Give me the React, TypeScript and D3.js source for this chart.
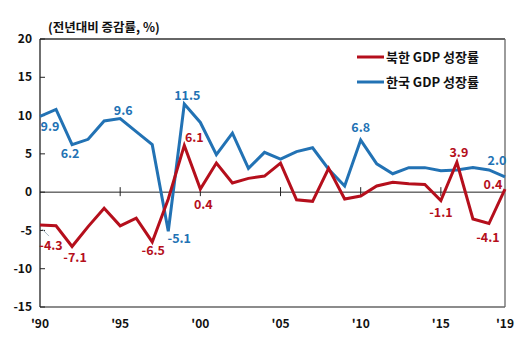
import React from "react";
import * as d3 from "d3";

const years = d3.range(1990, 2020);
const northKorea = [-4.3, -4.4, -7.1, -4.5, -2.1, -4.4, -3.4, -6.5, -0.9, 6.1, 0.4, 3.8, 1.2, 1.8, 2.1, 3.8, -1.0, -1.2, 3.1, -0.9, -0.5, 0.8, 1.3, 1.1, 1.0, -1.1, 3.9, -3.5, -4.1, 0.4];
const southKorea = [9.9, 10.8, 6.2, 6.9, 9.3, 9.6, 7.9, 6.2, -5.1, 11.5, 9.1, 4.9, 7.7, 3.1, 5.2, 4.3, 5.3, 5.8, 3.0, 0.8, 6.8, 3.7, 2.4, 3.2, 3.2, 2.8, 2.9, 3.2, 2.9, 2.0];
const yTicks = [20, 15, 10, 5, 0, -5, -10, -15];
const xTickYears = [1990, 1995, 2000, 2005, 2010, 2015, 2019];
const xTickLabels = ["'90", "'95", "'00", "'05", "'10", "'15", "'19"];
const seriesNames = ["북한 GDP 성장률", "한국 GDP 성장률"];
const unitLabel = "(전년대비 증감률, %)";
// labelled points: [year, dx, dy] offsets of label centre from the point
const redLabels: [number, number, number][] = [
  [1990, 11, 21], [1992, 3, 11], [1997, 1, 9], [1999, 10, -8], [2000, 3, 16], [2015, 0, 12], [2016, 2, -10], [2018, -1, 14], [2019, -12, -4],
];
const blueLabels: [number, number, number][] = [
  [1990, 10, 10], [1992, -2, 9], [1995, 3, -8], [1999, 3, -8], [1998, 11, 7], [2010, 0, -12], [2019, -8, -16],
];

const RED = "#B50F1C";
const BLUE = "#2272B4";
const FONT = "'Noto Sans CJK KR', 'Noto Sans', sans-serif";

export default function App() {
  const W = 522, H = 348;
  const left = 40, right = 505, top = 39, bottom = 307;
  const x = d3.scaleLinear().domain([1990, 2019]).range([left, right]);
  const y = d3.scaleLinear().domain([-15, 20]).range([bottom, top]);
  const line = d3.line<number>().x((_, i) => x(years[i])).y((d) => y(d));
  const fmt = (v: number) => v.toFixed(1);

  return (
    <svg width={W} height={H} style={{ position: "absolute", left: 0, top: 0, background: "#fff" }} fontFamily={FONT}>
      <rect x={0} y={0} width={W} height={H} fill="#fff" />
      <text x={48} y={32} fontSize={12.5} fontWeight="bold" fill="#111">{unitLabel}</text>
      {/* frame */}
      <line x1={left} x2={right} y1={top} y2={top} stroke="#333" strokeWidth={1.3} />
      <line x1={right} x2={right} y1={top} y2={bottom} stroke="#666" strokeWidth={1.3} />
      <line x1={left} x2={right} y1={bottom} y2={bottom} stroke="#666" strokeWidth={1.3} />
      <line x1={left} x2={left} y1={top} y2={bottom} stroke="#222" strokeWidth={1.3} />
      {yTicks.map((t) => (
        <g key={t}>
          <line x1={left} x2={left + 5} y1={y(t)} y2={y(t)} stroke="#222" strokeWidth={1} />
          <text x={32} y={y(t)} dy="0.35em" textAnchor="end" fontSize={12} fontWeight="bold" fill="#111">{t}</text>
        </g>
      ))}
      <line x1={left} x2={right} y1={y(0)} y2={y(0)} stroke="#222" strokeWidth={1} />
      {xTickYears.map((yr, i) => (
        <g key={yr}>
          {yr !== 1990 && yr !== 2019 && (
            <line x1={x(yr)} x2={x(yr)} y1={y(0) - 5} y2={y(0) + 4} stroke="#222" strokeWidth={1} />
          )}
          <text x={x(yr)} y={328} textAnchor="middle" fontSize={12} fontWeight="bold" fill="#111">{xTickLabels[i]}</text>
        </g>
      ))}
      {/* leader line to the '90 label */}
      <line x1={x(1990) + 2} y1={y(northKorea[0]) + 4} x2={x(1990) + 9} y2={y(northKorea[0]) + 11} stroke="#a8b8c4" strokeWidth={1} />
      <path d={line(southKorea) || ""} fill="none" stroke={BLUE} strokeWidth={3} strokeLinejoin="miter" />
      <path d={line(northKorea) || ""} fill="none" stroke={RED} strokeWidth={3} strokeLinejoin="miter" />
      {blueLabels.map(([yr, dx, dy]) => (
        <text key={"b" + yr} x={x(yr) + dx} y={y(southKorea[yr - 1990]) + dy} dy="0.35em" textAnchor="middle" fontSize={12.5} fontWeight="bold" fill={BLUE}>
          {fmt(southKorea[yr - 1990])}
        </text>
      ))}
      {redLabels.map(([yr, dx, dy]) => (
        <text key={"r" + yr} x={x(yr) + dx} y={y(northKorea[yr - 1990]) + dy} dy="0.35em" textAnchor="middle" fontSize={12.5} fontWeight="bold" fill={RED}>
          {fmt(northKorea[yr - 1990])}
        </text>
      ))}
      {/* legend */}
      {[RED, BLUE].map((c, i) => (
        <g key={c}>
          <line x1={357} x2={384} y1={57 + i * 25} y2={57 + i * 25} stroke={c} strokeWidth={3} />
          <text x={386} y={57 + i * 25} dy="0.35em" fontSize={13} fontWeight="bold" fill="#111">{seriesNames[i]}</text>
        </g>
      ))}
    </svg>
  );
}
